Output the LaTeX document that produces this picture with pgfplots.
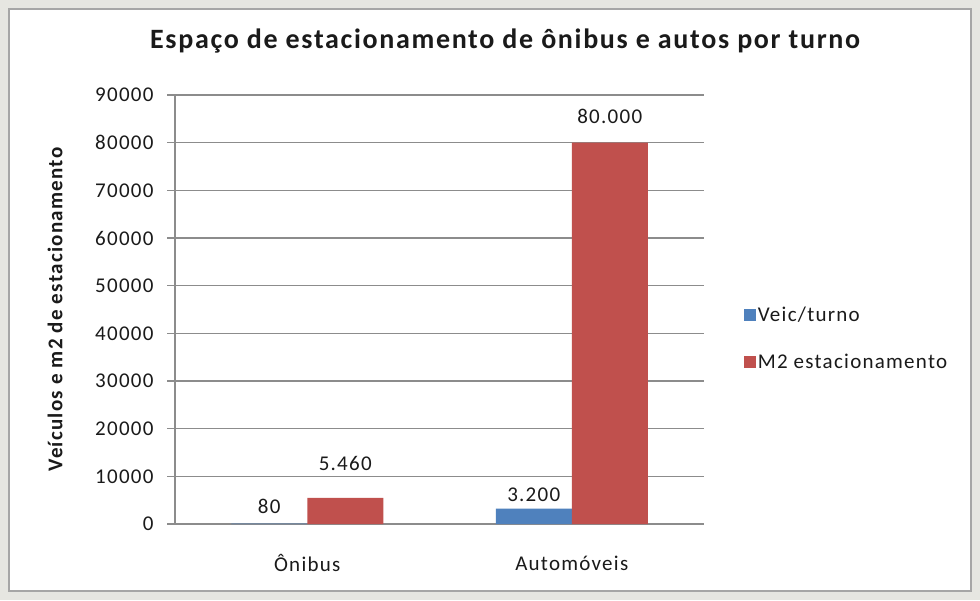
\documentclass[border=0pt]{standalone}
\usepackage{pgfplots}
\pgfplotsset{compat=1.18}
\usepackage{fontspec}
\setmainfont{Carlito}[LetterSpace=6]
\definecolor{bblue}{HTML}{4F81BD}
\definecolor{rred}{HTML}{C0504D}
\definecolor{gridc}{HTML}{8C8C8C}
\definecolor{bgc}{HTML}{E6E6E1}
\definecolor{framec}{HTML}{A6A6A6}
\definecolor{txt}{HTML}{1A1A1A}
\newcommand\tfont{\fontsize{21}{25}\selectfont}
\begin{document}
\begin{tikzpicture}[x=1pt,y=1pt]
\fill[bgc] (0,0) rectangle (980,600);
\draw[line width=2pt, draw=framec, fill=white] (9,9) rectangle (971,591);
\begin{axis}[
  at={(175pt,76pt)}, anchor=south west,
  scale only axis, width=529pt, height=429pt,
  xmin=-0.5, xmax=1.5, ymin=0, ymax=90000,
  clip=false,
  scaled y ticks=false,
  axis lines=left,
  axis line style={-, gridc, line width=1.5pt},
  xtick={0,1}, xticklabels={Ônibus, Automóveis},
  x tick style={draw=none},
  ytick={0,10000,20000,30000,40000,50000,60000,70000,80000,90000},
  yticklabels={0,10000,20000,30000,40000,50000,60000,70000,80000,90000},
  y tick style={gridc, line width=1.5pt},
  tick align=outside, major tick length=8pt,
  ymajorgrids, grid style={gridc, line width=1.5pt},
  yticklabel style={font=\tfont, text=txt, anchor=east, xshift=-10pt},
  xticklabel style={font=\tfont, text=txt, anchor=center, yshift=-31pt},
  title={Espaço de estacionamento de ônibus e autos por turno},
  title style={at={(axis description cs:0.624,1.112)}, anchor=center, font=\bfseries\fontsize{28}{32}\selectfont, text=txt},
  ylabel={Veículos e m2 de estacionamento},
  every axis y label/.style={at={(axis description cs:-0.2268,0.5)}, rotate=90, anchor=center, font=\bfseries\fontsize{21}{25}\selectfont, text=txt},
  legend style={at={(axis description cs:1.075,0.51)}, anchor=north west, draw=none, fill=none,
     font=\tfont, text=txt, row sep=27pt, inner sep=0pt, cells={anchor=west}},
  legend image code/.code={\fill[#1, draw=none] (0pt,-6pt) rectangle (12pt,6pt);},
]
\addplot[ybar, bar width=76pt, bar shift=-38pt, fill=bblue, draw=none] coordinates {(0,80) (1,3200)};
\addlegendentry{Veic/turno}
\addplot[ybar, bar width=76pt, bar shift=38pt, fill=rred, draw=none] coordinates {(0,5460) (1,80000)};
\addlegendentry{M2 estacionamento}
\addplot[draw=none, mark=none, forget plot, nodes near coords, point meta=explicit symbolic,
  every node near coord/.append style={anchor=center, font=\tfont, text=txt}]
  coordinates {(-0.1437,3776) [80] (0.1437,12797) [5.460] (0.8563,6084) [3.200] (1.1437,85594) [80.000]};
\end{axis}
\end{tikzpicture}
\end{document}
